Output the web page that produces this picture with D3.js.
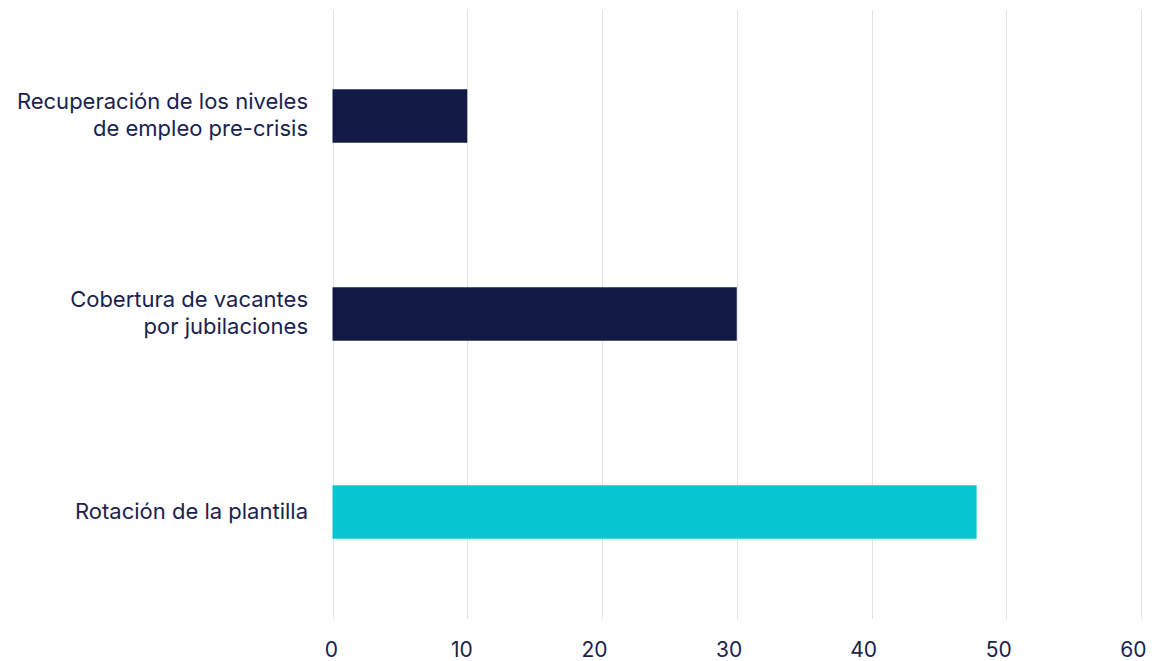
<!DOCTYPE html>
<html>
<head>
<meta charset="utf-8">
<script src="https://cdn.jsdelivr.net/npm/d3@7"></script>
<style>
  html, body { margin: 0; padding: 0; background: #ffffff; }
  svg { display: block; }
  text { font-family: Inter, "Noto Sans", sans-serif; fill: #1a2250; }
</style>
</head>
<body>
<svg id="chart" width="1162" height="661"></svg>
<script>
// Categories (each label split into its drawn lines), values and colours
const categories = [
  ["Recuperación de los niveles", "de empleo pre-crisis"],
  ["Cobertura de vacantes", "por jubilaciones"],
  ["Rotación de la plantilla"]
];
const values = [10, 30, 47.8];
const barColors = ["#121a45", "#121a45", "#08c6d0"];
const xTicks = [0, 10, 20, 30, 40, 50, 60];

const svg = d3.select("#chart");
const plotLeft = 332.5, plotRight = 1141, plotTop = 10, plotBottom = 619;

const x = d3.scaleLinear().domain([0, 60]).range([plotLeft, plotRight]);
const y = d3.scaleBand().domain(d3.range(categories.length)).range([17, 611]).paddingInner(0.73).paddingOuter(0.365);

// vertical grid lines
svg.append("g").selectAll("line").data(xTicks).join("line")
  .attr("x1", d => Math.round(x(d)) + 0.5).attr("x2", d => Math.round(x(d)) + 0.5)
  .attr("y1", plotTop).attr("y2", plotBottom)
  .attr("stroke", "#e3e3e3").attr("stroke-width", 1);

// bars
svg.append("g").selectAll("rect").data(values).join("rect")
  .attr("x", x(0))
  .attr("y", (d, i) => y(i))
  .attr("width", d => x(d) - x(0))
  .attr("height", y.bandwidth())
  .attr("fill", (d, i) => barColors[i]);

// x axis tick labels, right-aligned just past each grid line
const xAxis = d3.axisBottom(x).tickValues(xTicks).tickSize(0).tickPadding(0);
const gx = svg.append("g").attr("transform", `translate(0, ${plotBottom})`).call(xAxis);
gx.select(".domain").remove();
gx.selectAll("text")
  .attr("dy", null).attr("y", 38).attr("x", 5)
  .attr("text-anchor", "end")
  .style("font-size", "21px")
  .style("font-family", "Inter, 'Noto Sans', sans-serif")
  .attr("fill", "#1a2250");

// category labels
const lineH = 27;
const lab = svg.append("g").selectAll("text").data(categories).join("text")
  .attr("text-anchor", "end")
  .style("font-size", "22px")
  .attr("transform", (d, i) => `translate(308, ${y(i) + y.bandwidth() / 2 - 1})`);
lab.selectAll("tspan").data(d => d.map((t, j) => ({ t, j, n: d.length }))).join("tspan")
  .attr("x", 0)
  .attr("y", d => (d.j - (d.n - 1) / 2) * lineH)
  .attr("dy", "0.35em")
  .text(d => d.t);
</script>
</body>
</html>
